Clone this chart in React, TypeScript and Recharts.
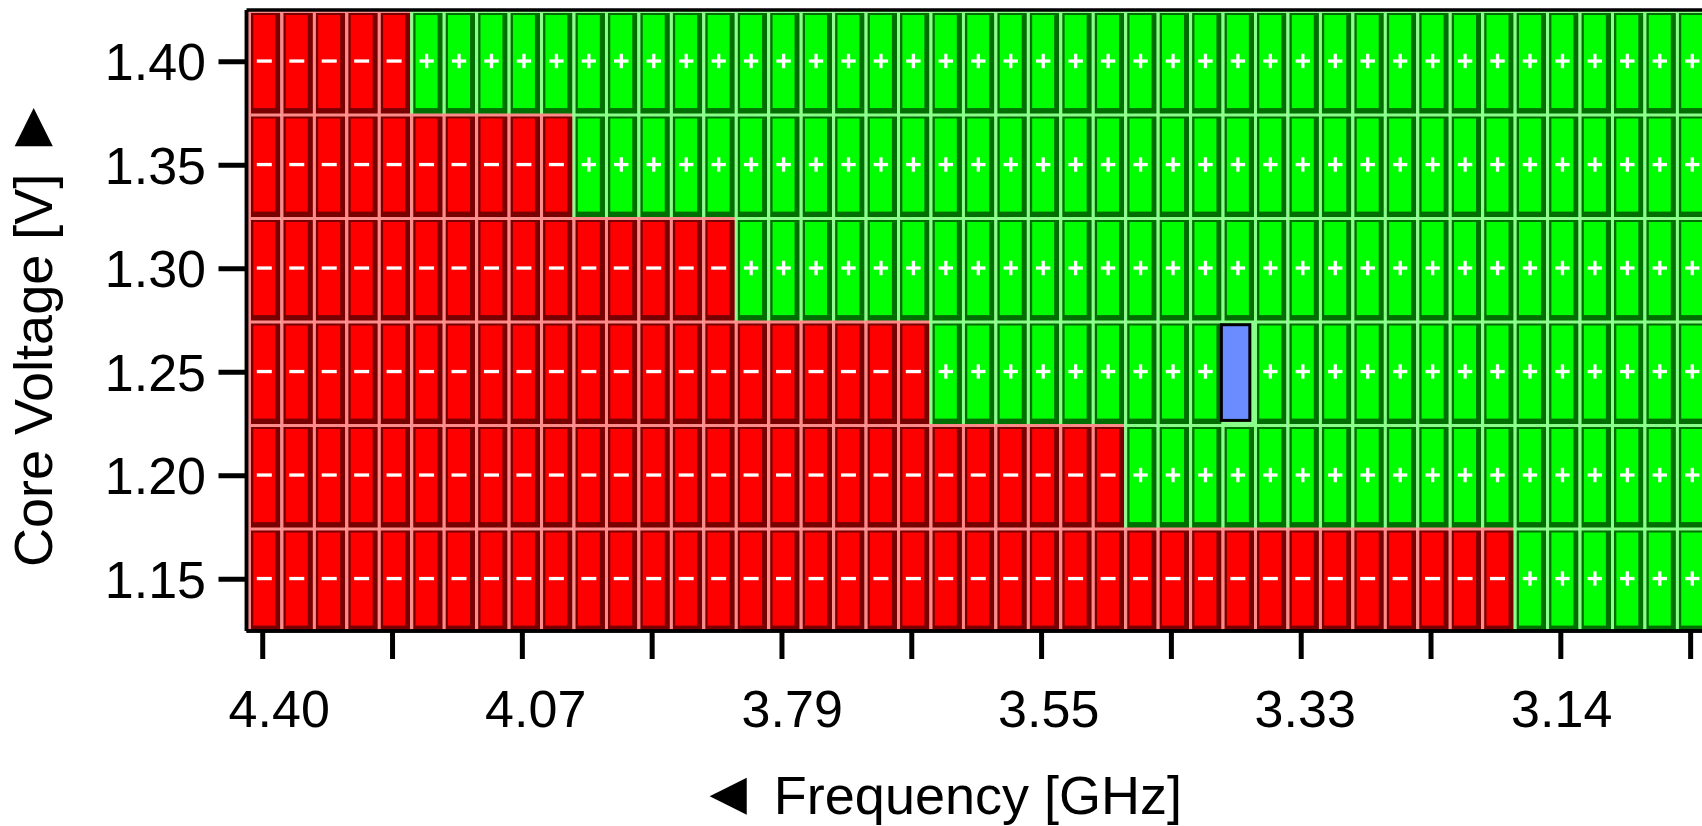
import React from 'react';
import { BarChart, Bar, XAxis, YAxis, ReferenceLine } from 'recharts';

const FONT = '"Liberation Sans", Arial, Helvetica, sans-serif';

// Core voltage rows, top to bottom
const VOLTAGES = ['1.40', '1.35', '1.30', '1.25', '1.20', '1.15'];
// failing frequency steps per row, counted from the fastest step
const FAIL_STEPS = [5, 10, 15, 21, 27, 39];
// frequency steps shown along the x axis (fastest first)
const FREQ_STEPS = 45;
// labelled frequencies, one every LABEL_EVERY steps
const FREQ_LABELS = ['4.40', '4.07', '3.79', '3.55', '3.33', '3.14'];
const LABEL_EVERY = 8;
const TICK_EVERY = 4;
// currently selected operating point
const CURRENT = { voltage: '1.25', step: 30 };

const STEP_KEYS = Array.from({ length: FREQ_STEPS }, (_, i) => `s${i}`);

const data = VOLTAGES.map((voltage, row) => {
  const entry: Record<string, string | number> = { voltage, fails: FAIL_STEPS[row] };
  STEP_KEYS.forEach((k) => {
    entry[k] = 1;
  });
  return entry;
});

const tickValues = Array.from(
  { length: Math.floor((FREQ_STEPS - 1) / TICK_EVERY) + 1 },
  (_, i) => i * TICK_EVERY + 0.5,
);

const PALETTE = {
  fail: { light: '#ff8a8a', base: '#ff0000', dark: '#780000' },
  pass: { light: '#8aff8a', base: '#00ff00', dark: '#006e00' },
};

function StepCell(props: any) {
  const { x, y, width, height, index, step } = props;
  const row = data[index];
  if (!row) return null;
  const failed = step < (row.fails as number);
  const c = failed ? PALETTE.fail : PALETTE.pass;
  const sx = x + 1.5;

  if (row.voltage === CURRENT.voltage && step === CURRENT.step) {
    return (
      <g>
        <rect x={sx} y={y} width={width} height={height} fill={c.light} />
        <rect
          x={x + 1.3}
          y={y + 4.2}
          width={width - 4}
          height={height - 8.3}
          fill="#6b8cff"
          stroke="#000"
          strokeWidth={3}
        />
      </g>
    );
  }

  const cx = sx + 16.3;
  const cy = y + 51;
  return (
    <g>
      <rect x={sx} y={y} width={width} height={height} fill={c.light} />
      <rect x={sx + 3} y={y + 3} width={width - 3} height={height - 3} fill={c.dark} />
      <rect x={sx + 5.3} y={y + 5} width={22} height={height - 10.9} fill={c.base} />
      {failed ? (
        <rect x={cx - 7.5} y={cy - 1.6} width={15} height={3.3} fill="#fff" />
      ) : (
        <g fill="#fff">
          <rect x={cx - 7.2} y={cy - 1.6} width={14.4} height={3.3} />
          <rect x={cx - 1.6} y={cy - 7.2} width={3.3} height={14.4} />
        </g>
      )}
    </g>
  );
}

// frequency labels sit on every other tick, drifting slightly right of the tick at the fast end
function FreqTick(props: any) {
  const { x, y, payload } = props;
  const step = Math.round(payload.value - 0.5);
  if (step % LABEL_EVERY !== 0) return null;
  const label = FREQ_LABELS[step / LABEL_EVERY];
  if (!label) return null;
  const shift = 16.5 - 0.39 * step;
  return (
    <text
      x={x + shift}
      y={y}
      dy="0.71em"
      textAnchor="middle"
      fontSize={52}
      fontFamily={FONT}
      fill="#000"
    >
      {label}
    </text>
  );
}

// rotated title, the pointer ends up pointing upwards
const yTitle = () => (
  <text
    x={51.5}
    y={567}
    transform="rotate(-90 51.5 567)"
    textAnchor="start"
    fontSize={54}
    fontFamily={FONT}
    fill="#000"
  >
    Core Voltage [V] <tspan fontSize={64}>►</tspan>
  </text>
);

const xTitle = () => (
  <text x={1182} y={814} textAnchor="end" fontSize={54} fontFamily={FONT} fill="#000">
    <tspan fontSize={62}>◄</tspan> Frequency [GHz]
  </text>
);

const axisLine = { stroke: '#000', strokeWidth: 3.5 };
const tickLine = { stroke: '#000', strokeWidth: 5 };
const tickStyle = { fontSize: 52, fill: '#000', fontFamily: FONT };
const X_DOMAIN: [number, number] = [0, 44.85];

export default function App() {
  return (
    <div
      style={{
        position: 'absolute',
        left: 0,
        top: 0,
        width: 1702,
        height: 826,
        overflow: 'hidden',
        background: '#fff',
      }}
    >
      <BarChart
        width={1702}
        height={826}
        data={data}
        layout="vertical"
        margin={{ top: 10, right: 0, bottom: 0, left: 66.5 }}
        barCategoryGap={0}
        barGap={0}
      >
        {STEP_KEYS.map((k, i) => (
          <Bar
            key={k}
            dataKey={k}
            stackId="grid"
            isAnimationActive={false}
            shape={(p: any) => <StepCell {...p} step={i} />}
          />
        ))}
        <YAxis
          type="category"
          dataKey="voltage"
          width={180}
          stroke="#000"
          interval={0}
          tickSize={28}
          tickMargin={12.5}
          tick={tickStyle}
          tickLine={tickLine}
          axisLine={axisLine}
          label={yTitle}
        />
        <XAxis
          type="number"
          domain={X_DOMAIN}
          allowDataOverflow
          ticks={tickValues}
          interval={0}
          height={195}
          stroke="#000"
          tickSize={28}
          tickMargin={31}
          tick={<FreqTick />}
          tickLine={tickLine}
          axisLine={axisLine}
          label={xTitle}
        />
        {/* plot frame drawn over the grid cells */}
        <ReferenceLine y={VOLTAGES[0]} position="start" stroke="#000" strokeWidth={3.5} />
        <ReferenceLine
          y={VOLTAGES[VOLTAGES.length - 1]}
          position="end"
          stroke="#000"
          strokeWidth={3.5}
        />
        <ReferenceLine x={0} stroke="#000" strokeWidth={3.5} />
      </BarChart>
    </div>
  );
}
